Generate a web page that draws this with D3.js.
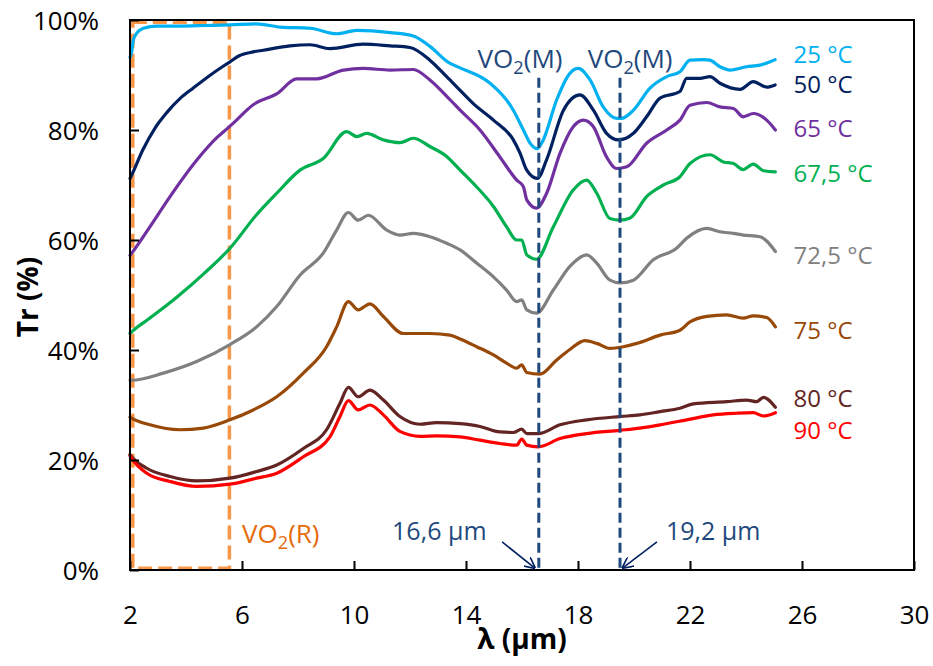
<!DOCTYPE html>
<html><head><meta charset="utf-8">
<script src="https://cdn.jsdelivr.net/npm/d3@7"></script>
<style>body{margin:0;background:#fff;} svg{display:block;} text{font-family:"Open Sans",sans-serif;}</style>
</head><body><svg id="c" width="933" height="666"></svg>
<script>
// ---- data ----
const seriesLabels = ["25 °C","50 °C","65 °C","67,5 °C","72,5 °C","75 °C","80 °C","90 °C"];
const s25 = [[2.0,93.2],[2.06,94.2],[2.12,96.4],[2.24,97.6],[2.48,98.5],[2.95,98.9],[3.79,98.9],[4.7,99.0],[5.57,99.1],[6.52,99.3],[7.36,98.7],[8.43,98.5],[9.38,97.5],[10.1,98.1],[11.29,97.7],[12.12,97.1],[12.71,95.2],[13.43,92.1],[13.79,91.3],[14.86,88.5],[15.69,83.6],[16.05,80],[16.29,77.6],[16.55,76.6],[16.76,78.2],[17.24,85.5],[17.71,90.3],[18.01,91.2],[18.43,89.1],[18.9,84.2],[19.38,82.1],[19.55,82.1],[19.98,83.6],[20.57,87.6],[21.17,89.7],[21.64,90.6],[22.0,92.7],[22.48,92.8],[22.71,92.7],[23.07,91.5],[23.43,90.9],[24.02,91.5],[24.5,91.8],[24.86,92.4],[25.04,92.8]];
const s50 = [[2.0,71.2],[2.06,71.8],[2.46,76.4],[2.9,80.4],[3.32,83.2],[3.8,85.8],[4.25,87.6],[4.9,90.1],[5.57,92.4],[5.9,93.5],[6.4,94.2],[6.76,94.5],[7.71,95.3],[8.43,95.5],[9.14,94.8],[10.33,95.6],[11.29,95.3],[12.0,95.0],[12.71,92.7],[13.31,89.7],[13.79,87.2],[14.26,84.8],[14.98,81.8],[15.69,78.2],[15.93,75.8],[16.17,72.7],[16.55,71.2],[16.88,74.6],[17.48,83.6],[18.07,86.4],[18.55,83.6],[19.02,79.4],[19.45,78.2],[19.98,79.4],[20.45,82.4],[20.93,85.8],[21.64,87],[21.88,89.4],[22.36,89.4],[22.71,89.7],[23.07,88.5],[23.79,87.4],[24.26,88.8],[24.74,87.8],[25.04,88.2]];
const s65 = [[2.0,57.2],[2.06,57.6],[2.71,62.4],[3.43,67.9],[4.38,74.5],[5.1,78.6],[5.57,80.7],[5.7,81.3],[6.4,84.6],[7.25,86.6],[7.95,89.3],[8.67,89.3],[9.62,90.9],[10.33,91.2],[11.29,90.9],[12.12,91.0],[12.71,89.1],[13.43,85.5],[13.79,83.6],[14.5,80],[15.21,75.1],[15.81,70.9],[16.05,69.7],[16.17,67.3],[16.52,65.8],[16.88,68.5],[17.36,75.8],[17.83,80.6],[18.19,81.8],[18.55,80.6],[19.02,75.1],[19.38,73],[19.74,73.3],[20.45,77.6],[21.17,80],[21.64,81.8],[22.0,84.5],[22.6,85],[23.07,84.2],[23.55,83.9],[23.9,82.4],[24.26,83],[24.74,81.8],[25.05,80]];
const s675 = [[2.0,43.0],[2.06,43.3],[2.71,45.8],[3.67,49.6],[4.62,53.8],[5.57,58.5],[6.52,64.6],[7.24,68.5],[8.07,72.7],[8.9,74.8],[9.74,79.7],[10.1,78.8],[10.45,79.4],[11.05,78.2],[11.64,77.7],[12.12,78.5],[12.71,77],[13.31,75.2],[13.79,72.7],[14.26,70.3],[14.98,66.1],[15.45,62.4],[15.81,60],[15.99,60],[16.17,57.3],[16.52,56.5],[17.12,62.4],[17.83,69.1],[18.31,70.9],[18.67,68.5],[19.14,63.9],[19.5,63.6],[19.86,64],[20.45,67.9],[21.05,70],[21.64,71.5],[22.0,73.9],[22.71,75.5],[23.19,74.2],[23.55,73.9],[23.9,72.8],[24.26,73.8],[24.62,72.6],[25.05,72.4]];
const s725 = [[2.0,34.5],[2.06,34.5],[3.19,35.8],[4.38,37.9],[5.57,41.0],[6.52,44.2],[7.24,47.9],[8.07,53.6],[8.9,57.6],[9.38,61.8],[9.8,65],[10.15,63.6],[10.51,64.5],[11.17,61.8],[11.64,60.9],[12.12,61.2],[12.71,60.6],[13.31,59.4],[13.79,58.2],[14.38,55.8],[14.98,53.3],[15.45,50.9],[15.81,48.8],[15.99,49.1],[16.17,47.3],[16.52,46.7],[17.12,50.9],[17.71,55.2],[18.31,57.3],[18.67,55.8],[19.14,52.7],[19.5,52.2],[19.98,52.7],[20.69,56.4],[21.52,58.5],[21.88,60.3],[22.6,62.1],[23.07,61.5],[23.55,61.2],[23.9,60.9],[24.5,60.6],[25.05,57.9]];
const s75 = [[2.0,27.8],[2.06,27.6],[2.71,26.4],[3.79,25.5],[4.62,25.8],[5.57,27.3],[6.4,29.1],[7.24,31.5],[8.19,35.8],[9.02,40.6],[9.38,44.2],[9.8,48.8],[10.15,47.3],[10.57,48.4],[11.05,46.1],[11.76,43.0],[12.71,43.0],[13.43,42.7],[13.79,42.0],[14.38,40.6],[14.98,39.1],[15.45,37.6],[15.81,36.7],[15.99,37.3],[16.17,35.9],[16.64,35.6],[17.24,38.2],[17.71,40.1],[18.25,41.7],[18.67,41.2],[19.14,40.3],[19.62,40.6],[20.1,41.2],[20.93,42.7],[21.64,43.6],[22.0,45.1],[22.6,46.1],[23.31,46.4],[23.9,45.8],[24.26,46.2],[24.74,45.9],[25.05,44.2]];
const s80 = [[2.0,21.0],[2.06,20.6],[2.6,18.5],[3.43,17],[4.38,16.2],[5.57,16.7],[6.52,17.9],[7.24,19.1],[8.19,22.1],[9.02,25.5],[9.5,30.3],[9.8,33.2],[10.15,31.5],[10.57,32.7],[11.05,30.9],[11.64,27.9],[12.36,26.5],[12.95,26.8],[13.79,26.6],[14.5,26.1],[15.21,25.1],[15.69,25],[15.99,25.6],[16.17,24.8],[16.58,24.8],[17.36,26.4],[18.31,27.3],[19.5,27.9],[20.21,28.2],[20.93,28.8],[21.64,29.4],[22.12,30.2],[23.31,30.6],[24.02,30.9],[24.38,30.6],[24.62,31.4],[25.05,29.6]];
const s90 = [[2.0,20.8],[2.06,20.3],[2.6,17.6],[3.43,16.1],[4.38,15.2],[5.57,15.6],[6.52,16.7],[7.24,17.6],[8.19,20.6],[9.14,24.2],[9.5,27.9],[9.8,30.8],[10.15,29.1],[10.57,30],[11.05,28.2],[11.64,25.2],[12.36,24.3],[12.95,24.4],[13.79,24.2],[14.5,23.6],[15.21,23],[15.81,22.7],[15.99,23.8],[16.17,22.7],[16.58,22.4],[17.36,23.9],[18.31,24.8],[19.5,25.4],[20.21,25.8],[20.93,26.4],[21.88,27.3],[22.83,28.2],[23.67,28.5],[24.26,28.6],[24.62,28.0],[25.05,28.6]];
const seriesData = [s25,s50,s65,s675,s725,s75,s80,s90];
const labelY = [92.2, 86.8, 78.7, 70.5, 55.6, 42.0, 29.6, 23.9];   // label baseline (Tr %)
const xTicks = [2,6,10,14,18,22,26,30];
const yTicks = [0,20,40,60,80,100];
const vo2mLines = [16.6, 19.5];
const vo2mLabelX = [15.93, 19.86];
const vo2rBox = [2.1, 5.55, 0.3, 99.6];
const wlLabels = ["16,6 µm","19,2 µm"];

// ---- style ----
const colors = ["#00B0F0","#002060","#7030A0","#00B050","#808080","#984807","#632523","#FF0000"];
const L=130,R=914,T=20,B=570;
const svg = d3.select("#c");
const x = d3.scaleLinear().domain([2,30]).range([L,R]);
const y = d3.scaleLinear().domain([0,100]).range([B,T]);

// orange dashed VO2(R) box
svg.append("rect").attr("x",x(vo2rBox[0])).attr("y",y(vo2rBox[3]))
  .attr("width",x(vo2rBox[1])-x(vo2rBox[0])).attr("height",y(vo2rBox[2])-y(vo2rBox[3]))
  .attr("fill","none").attr("stroke","#F79646").attr("stroke-width",3.5).attr("stroke-dasharray","14,6");

// series
const line = d3.line().x(d=>x(d[0])).y(d=>y(d[1])).curve(d3.curveMonotoneX);
seriesData.forEach((s,i)=>{
  svg.append("path").attr("d",line(s)).attr("fill","none").attr("stroke",colors[i])
    .attr("stroke-width",3.2).attr("stroke-linejoin","round").attr("stroke-linecap","round");
});

// vertical dashed VO2(M) lines
vo2mLines.forEach(v=>{
  svg.append("line").attr("x1",x(v)).attr("x2",x(v)).attr("y1",y(89.5)).attr("y2",y(0))
    .attr("stroke","#1F497D").attr("stroke-width",3).attr("stroke-dasharray","10,5");
});

// frame + axes
svg.append("rect").attr("x",L).attr("y",T).attr("width",R-L).attr("height",B-T)
  .attr("fill","none").attr("stroke","#000").attr("stroke-width",2);
const xAxis = svg.append("g").attr("transform",`translate(0,${B})`)
  .call(d3.axisBottom(x).tickValues(xTicks).tickSize(-9).tickPadding(36).tickFormat(d3.format("d")));
const yAxis = svg.append("g").attr("transform",`translate(${L},0)`)
  .call(d3.axisLeft(y).tickValues(yTicks).tickSize(-9).tickPadding(31).tickFormat(d=>d+"%"));
[xAxis,yAxis].forEach(g=>{
  g.select(".domain").remove();
  g.selectAll("line").attr("stroke","#000").attr("stroke-width",2);
  g.selectAll("text").attr("font-family","Open Sans").attr("font-size",26).attr("fill","#000");
});
yAxis.selectAll("text").attr("dy","0.35em");

// axis titles
svg.append("text").attr("x",(L+R)/2).attr("y",649).attr("text-anchor","middle")
  .attr("font-weight","bold").attr("font-size",28).text("λ (µm)");
svg.append("text").attr("transform",`translate(38,${297}) rotate(-90)`).attr("text-anchor","middle")
  .attr("font-weight","bold").attr("font-size",28).text("Tr (%)");

// series labels
seriesLabels.forEach((t,i)=>{
  svg.append("text").attr("x",x(25.7)).attr("y",y(labelY[i])).attr("font-size",24)
    .attr("fill",colors[i]).text(t);
});

// VO2 labels
function vo2(sel, main, sub, tail){
  sel.append("tspan").text(main);
  sel.append("tspan").attr("font-size","70%").attr("dy",6).text(sub);
  sel.append("tspan").attr("dy",-6).text(tail);
}
vo2mLabelX.forEach(v=>{
  const t = svg.append("text").attr("x",x(v)).attr("y",y(91.3)).attr("text-anchor","middle")
    .attr("font-size",26).attr("fill","#1F497D");
  vo2(t,"VO","2","(M)");
});
const tr = svg.append("text").attr("x",x(6.0)).attr("y",y(4.9)).attr("font-size",26).attr("fill","#E46C0A");
vo2(tr,"VO","2","(R)");

// wavelength labels + arrows
const defs = svg.append("defs");
defs.append("marker").attr("id","ah").attr("viewBox","0 0 10 10").attr("refX",9).attr("refY",5)
  .attr("markerWidth",7).attr("markerHeight",7).attr("orient","auto")
  .append("path").attr("d","M0,0 L10,5 L0,10").attr("fill","none").attr("stroke","#002060").attr("stroke-width",1.5);
svg.append("text").attr("x",x(11.36)).attr("y",y(5.5)).attr("font-size",25).attr("fill","#1F497D").text(wlLabels[0]);
svg.append("text").attr("x",x(21.14)).attr("y",y(5.5)).attr("font-size",25).attr("fill","#1F497D").text(wlLabels[1]);
svg.append("line").attr("x1",x(15.29)).attr("y1",y(5.1)).attr("x2",x(16.45)).attr("y2",y(0.4))
  .attr("stroke","#002060").attr("stroke-width",1.6).attr("marker-end","url(#ah)");
svg.append("line").attr("x1",x(20.82)).attr("y1",y(5.1)).attr("x2",x(19.6)).attr("y2",y(0.4))
  .attr("stroke","#002060").attr("stroke-width",1.6).attr("marker-end","url(#ah)");
</script></body></html>
